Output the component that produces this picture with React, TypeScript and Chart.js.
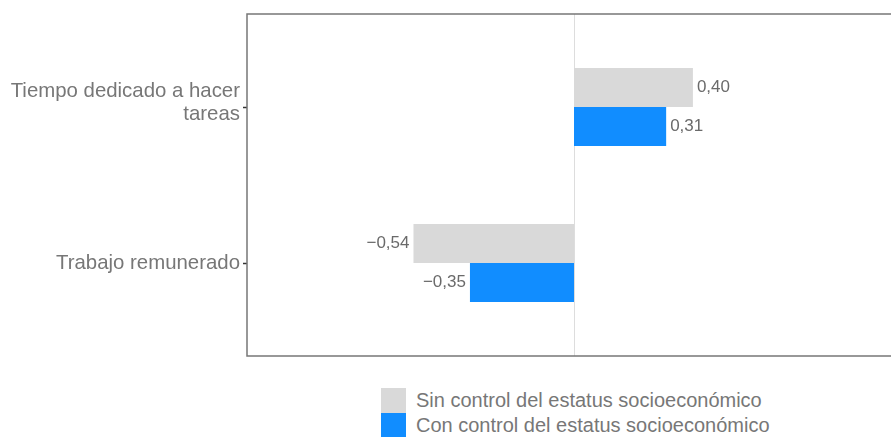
import React, { useEffect, useRef } from 'react';
import { Chart, registerables } from 'chart.js';

Chart.register(...registerables);

// ---- data ----
const categories: (string | string[])[] = [['Tiempo dedicado a hacer', 'tareas'], 'Trabajo remunerado'];
const seriesNames = ['Sin control del estatus socioeconómico', 'Con control del estatus socioeconómico'];
const sinControl = [0.4, -0.54];
const conControl = [0.31, -0.35];
const xMin = -1.1;
const xMax = 1.1;

// ---- styles ----
const seriesColors = ['#d9d9d9', '#118dff'];
const FONT = "'Liberation Sans', Arial, Helvetica, sans-serif";
const TEXT = '#777777';
const FRAME = '#777777';
const FRAME_EXT_TOP = 15;
const FRAME_EXT_BOTTOM = 15;
const LABEL_SIZE = 20.4;
const LABEL_LINE = 23;
const LABEL_SHIFT_PER_EXTRA_LINE = 4.5;

const fmt = (v: number) => (v < 0 ? '\u2212' : '') + Math.abs(v).toFixed(2).replace('.', ',');

const framePlugin = {
  id: 'frame',
  beforeDatasetsDraw(chart: any) {
    const { ctx, chartArea, scales } = chart;
    const x0 = Math.round(scales.x.getPixelForValue(0)) + 0.5;
    ctx.save();
    ctx.strokeStyle = '#dddddd';
    ctx.lineWidth = 1;
    ctx.beginPath();
    ctx.moveTo(x0, chartArea.top - FRAME_EXT_TOP);
    ctx.lineTo(x0, chartArea.bottom + FRAME_EXT_BOTTOM);
    ctx.stroke();
    ctx.restore();
  },
  afterDraw(chart: any) {
    const { ctx, chartArea, scales } = chart;
    const t = chartArea.top - FRAME_EXT_TOP;
    const b = chartArea.bottom + FRAME_EXT_BOTTOM;
    const l = chartArea.left;
    ctx.save();
    ctx.strokeStyle = FRAME;
    ctx.lineWidth = 1.5;
    ctx.beginPath();
    ctx.moveTo(chartArea.right + 20, t);
    ctx.lineTo(l, t);
    ctx.lineTo(l, b);
    ctx.lineTo(chartArea.right + 20, b);
    ctx.stroke();

    // category labels (real text), right aligned left of the tick marks
    ctx.font = `${LABEL_SIZE}px ${FONT}`;
    ctx.fillStyle = TEXT;
    ctx.textAlign = 'right';
    ctx.textBaseline = 'middle';
    const xr = l - 7;
    categories.forEach((lab, i) => {
      const lines = Array.isArray(lab) ? lab : [lab];
      const yc = scales.y.getPixelForValue(i);
      const n = lines.length;
      const y0 = yc - ((n - 1) * LABEL_LINE) / 2 - (n - 1) * LABEL_SHIFT_PER_EXTRA_LINE;
      lines.forEach((ln, k) => ctx.fillText(ln, xr, y0 + k * LABEL_LINE));
    });
    ctx.restore();
  },
};

const valueLabels = {
  id: 'valueLabels',
  afterDatasetsDraw(chart: any) {
    const { ctx } = chart;
    ctx.save();
    ctx.font = `17px ${FONT}`;
    ctx.fillStyle = '#6a6a6a';
    ctx.textBaseline = 'middle';
    chart.data.datasets.forEach((ds: any, di: number) => {
      const meta = chart.getDatasetMeta(di);
      meta.data.forEach((el: any, i: number) => {
        const v = ds.data[i];
        if (v >= 0) {
          ctx.textAlign = 'left';
          ctx.fillText(fmt(v), el.x + 4, el.y);
        } else {
          ctx.textAlign = 'right';
          ctx.fillText(fmt(v), el.x - 4, el.y);
        }
      });
    });
    ctx.restore();
  },
};

export default function App() {
  const ref = useRef<HTMLCanvasElement | null>(null);

  useEffect(() => {
    if (!ref.current) return;
    const series = [sinControl, conControl];
    const chart = new Chart(ref.current, {
      type: 'bar',
      data: {
        labels: categories as any,
        datasets: series.map((vals, si) => ({
          label: seriesNames[si],
          data: vals,
          backgroundColor: seriesColors[si],
          borderWidth: 0,
          categoryPercentage: 0.5,
          barPercentage: 1.0,
        })),
      },
      options: {
        indexAxis: 'y',
        responsive: false,
        animation: false,
        layout: { padding: { top: 29, left: 0, right: 19, bottom: 39 } },
        plugins: { legend: { display: false }, tooltip: { enabled: false } },
        scales: {
          x: {
            type: 'linear',
            display: false,
            min: xMin,
            max: xMax,
          },
          y: {
            type: 'category',
            offset: true,
            afterFit: (s: any) => {
              s.width = 247;
              s.paddingTop = 0;
              s.paddingBottom = 0;
            },
            ticks: { display: false },
            grid: {
              offset: false,
              drawOnChartArea: false,
              drawTicks: true,
              tickLength: 4,
              tickColor: '#333333',
              tickWidth: 1.5,
            },
            border: { display: false },
          },
        },
      },
      plugins: [framePlugin, valueLabels],
    } as any);
    return () => chart.destroy();
  }, []);

  const legendItem = (i: number, top: number) => (
    <div
      key={i}
      style={{ position: 'absolute', left: 381, top, height: 25, display: 'flex', alignItems: 'center' }}
    >
      <div style={{ width: 25, height: 25, background: seriesColors[i] }} />
      <span
        style={{
          marginLeft: 10,
          fontFamily: FONT,
          fontSize: 20,
          color: TEXT,
          lineHeight: '25px',
          whiteSpace: 'nowrap',
        }}
      >
        {seriesNames[i]}
      </span>
    </div>
  );

  return (
    <div
      style={{
        position: 'fixed',
        left: 0,
        top: 0,
        width: 891,
        height: 437,
        overflow: 'hidden',
        background: '#ffffff',
      }}
    >
      <canvas ref={ref} width={920} height={380} style={{ position: 'absolute', left: 0, top: 0 }} />
      {legendItem(0, 388)}
      {legendItem(1, 413)}
    </div>
  );
}
